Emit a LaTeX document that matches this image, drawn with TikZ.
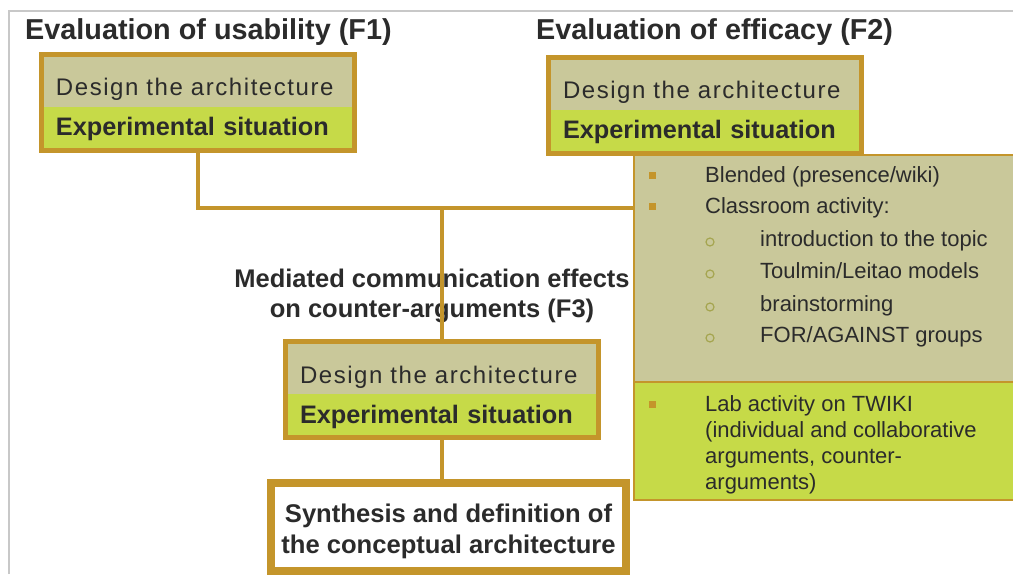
\documentclass[tikz,border=0pt]{standalone}
\usepackage{fontspec}
\setmainfont{Liberation Sans}
\usetikzlibrary{positioning,fit}

\definecolor{ochre}{RGB}{196,149,43}
\definecolor{sand}{RGB}{201,200,154}
\definecolor{lime}{RGB}{198,218,72}
\definecolor{ink}{RGB}{43,43,43}
\definecolor{olive}{RGB}{165,165,80}
\definecolor{frameline}{RGB}{200,200,200}

\tikzset{
	title/.style = {font = \fontsize{28.8}{30}\selectfont\bfseries, text = ink, inner sep = 0pt, anchor = base west},
	designband/.style = {fill = sand, text width = 284pt, inner xsep = 12pt, inner ysep = 0pt, outer sep = 0pt,
		text height = 39pt, text depth = 11pt, text = ink, anchor = north west,
		font = \fontsize{24}{28}\selectfont\addfontfeature{LetterSpace=6.5}},
	expband/.style = {fill = lime, text width = 284pt, inner xsep = 12pt, inner ysep = 0pt, outer sep = 0pt,
		text height = 29pt, text depth = 12pt, text = ink, below = 0pt of #1,
		font = \fontsize{25.3}{28}\selectfont\bfseries},
	frame/.style = {draw = ochre, line width = 5pt, inner sep = 2.5pt},
	panel/.style = {draw = ochre, line width = 2pt, minimum width = 400pt, inner sep = 0pt, outer sep = 0pt},
	item/.style = {font = \fontsize{22}{26}\selectfont, text = ink, inner sep = 0pt, anchor = base west},
	square/.style = {fill = ochre, minimum size = 7pt, inner sep = 0pt},
	ring/.style = {draw = olive, line width = 1.2pt, circle, minimum size = 8pt, inner sep = 0pt},
	link/.style = {draw = ochre, line width = 4pt}
}

\begin{document}
\begin{tikzpicture}[x = 1pt, y = 1pt]
	\clip (0, 0) rectangle (1013, 574);
	\draw[frameline, line width = 1.5pt] (9, 0) |- (1013, 563);

	% headings
	\node[title] (usability) at (25, 534) {Evaluation of usability (F1)};
	\node[title] (efficacy) at (536, 534) {Evaluation of efficacy (F2)};
	\node[font = \fontsize{25.5}{30}\selectfont\bfseries, text = ink, align = center, anchor = base] (mediated) at (432, 256)
		{Mediated communication effects\\on counter-arguments (F3)};

	% activities panel
	\node[panel, fill = sand, minimum height = 227pt, anchor = north west] (activities) at (633.5, 419) {};
	\node[panel, fill = lime, minimum height = 118pt, below = 0pt of activities] (lab) {};
	\foreach \yy/\txt [count = \i] in {183/{Blended (presence/wiki)}, 214/{Classroom activity:}, 411/{Lab activity on TWIKI}}{
		\node[square] (mark\i) at (652, 574 - \yy + 7) {};
		\node[item] (point\i) at (705, 574 - \yy) {\txt};}
	\foreach \yy/\txt [count = \i] in {247/{introduction to the topic}, 279/{Toulmin/Leitao models}, 312/{brainstorming}, 343/{FOR/AGAINST groups}}{
		\node[ring] (ring\i) at (710, 574 - \yy + 5) {};
		\node[item] (topic\i) at (760, 574 - \yy) {\txt};}
	\foreach \yy/\txt [count = \i] in {437/{(individual and collaborative}, 463/{arguments, counter-}, 489/{arguments)}}{
		\node[item] (labline\i) at (705, 574 - \yy) {\txt};}

	% the three design boxes
	\foreach \name/\x/\y in {f1/44/517, f2/551/514, f3/288/230}{
		\node[designband] (\name design) at (\x, \y) {Design the architecture};
		\node[expband = \name design] (\name exp) {Experimental situation};
		\node[frame, fit = (\name design) (\name exp)] (\name box) {};}

	\node[draw = ochre, line width = 8pt, fill = white, minimum width = 355pt, minimum height = 88pt,
		text height = 60pt, text depth = 7pt, align = center, text = ink,
		font = \fontsize{25.6}{31}\selectfont\bfseries] (synthesis) at (448.5, 47.5)
		{Synthesis and definition of\\the conceptual architecture};

	% connectors
	\coordinate (hub) at (442, 366);
	\draw[link] (f1box.south) |- (hub) -- (hub -| activities.west);
	\draw[link] (hub) -- (f3box.north);
	\draw[link] (f3box.south) -- (f3box.south |- synthesis.north);
\end{tikzpicture}
\end{document}
